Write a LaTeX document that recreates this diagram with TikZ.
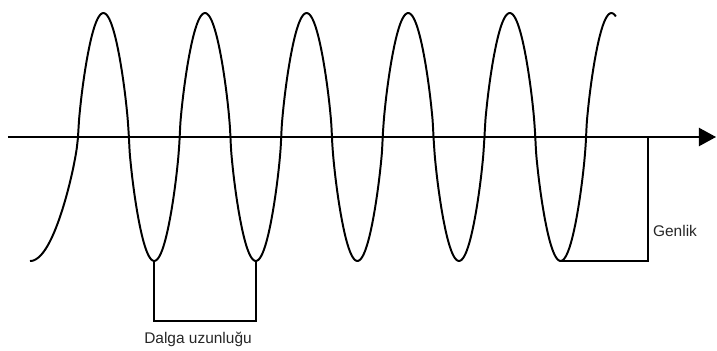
\documentclass[tikz,border=0pt]{standalone}
\usepackage{fontspec}
\setmainfont{Liberation Sans}
\usetikzlibrary{arrows.meta,positioning}

\begin{document}
\begin{tikzpicture}[
    wave/.style={line width=1.4pt, line join=round},
    bracket/.style={line width=1.3pt},
    axis/.style={line width=1pt, -{Triangle[length=4.3mm,width=4.6mm]}},
    txt/.style={font=\fontsize{11}{13}\selectfont, text=black!85, inner sep=0pt}
]
\useasboundingbox (0,-5.35) rectangle (17.925,3.425);

\coordinate (origin) at (0.2,0);
\coordinate (tip) at (17.9,0);
\draw[axis] (origin) -- (tip);

\draw[wave] plot[domain=0.75:1.95, samples=40, smooth] (\x, {-3.1*(cos(90*(\x-0.75)/1.2)+0.0001)^0.75})
  -- plot[domain=1.95:15.4, samples=500, smooth] (\x, {3.1*sin(360*(\x-1.95)/2.54)/(abs(sin(360*(\x-1.95)/2.54))+0.001)^0.28});

\coordinate (wl-a) at (3.855,-3.1);
\coordinate (wl-b) at (6.395,-3.1);
\draw[bracket] (wl-a) -- ++(0,-1.5) -| (wl-b);

\coordinate (amp-low) at (14.015,-3.1);
\coordinate (amp-axis) at (16.2,0);
\draw[bracket] (amp-low) -| (amp-axis);

\node[txt] (wavelength) at (4.95,-5.05) {Dalga uzunluğu};
\node[txt] (amplitude) at (16.875,-2.35) {Genlik};

\end{tikzpicture}
\end{document}
